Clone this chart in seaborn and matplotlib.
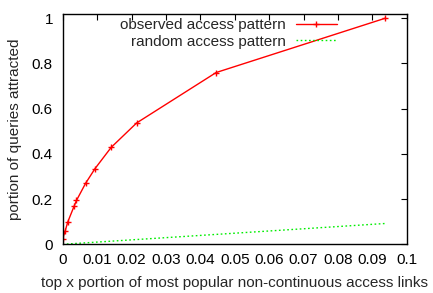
import matplotlib
matplotlib.use("Agg")
import matplotlib.pyplot as plt
import matplotlib.ticker as mticker
import seaborn as sns
import pandas as pd

# Data
obs_x = [0.0, 0.0007, 0.0015, 0.0033, 0.0040, 0.0067, 0.0094, 0.0141, 0.0215, 0.0446, 0.0937]
obs_y = [0.024, 0.058, 0.100, 0.168, 0.194, 0.271, 0.335, 0.429, 0.537, 0.760, 1.000]
rnd_x = [0.0, 0.0937]
rnd_y = [0.0, 0.092]
labels = ["observed access pattern", "random access pattern"]
x_ticks = [0, 0.01, 0.02, 0.03, 0.04, 0.05, 0.06, 0.07, 0.08, 0.09, 0.1]
y_ticks = [0, 0.2, 0.4, 0.6, 0.8, 1.0]

sns.set_style("white")
plt.rcParams["font.family"] = ["Liberation Sans", "DejaVu Sans"]
plt.rcParams["font.size"] = 11

obs = pd.DataFrame({"x": obs_x, "y": obs_y})
rnd = pd.DataFrame({"x": rnd_x, "y": rnd_y})

fig = plt.figure(figsize=(4.33, 2.93), dpi=100)
ax = fig.add_axes([62.7 / 433, 1 - 244.3 / 293, (406.7 - 62.7) / 433, (244.3 - 14) / 293])

sns.lineplot(data=obs, x="x", y="y", ax=ax, color="#ff0000", linewidth=1.0,
             marker="+", markersize=5, markeredgewidth=1.0, markeredgecolor="#ff0000",
             label=labels[0], legend=False)
sns.lineplot(data=rnd, x="x", y="y", ax=ax, color="#00ee00", linewidth=1.0,
             linestyle=(0, (1.2, 1.8)), label=labels[1], legend=False)

ax.set_xlim(0, 0.1)
ax.set_ylim(0, 1.019)
ax.set_xticks(x_ticks)
ax.set_yticks(y_ticks)
ax.xaxis.set_major_formatter(mticker.FormatStrFormatter("%g"))
ax.yaxis.set_major_formatter(mticker.FormatStrFormatter("%g"))
ax.tick_params(axis="both", direction="in", length=4, width=0.8, top=True, right=True,
               colors="black", labelsize=11)
ax.tick_params(axis="x", pad=6)
ax.tick_params(axis="y", pad=7)
for s in ax.spines.values():
    s.set_visible(True)
    s.set_color("black")
    s.set_linewidth(1.0)

ax.set_xlabel("top x portion of most popular non-continuous access links", fontsize=11, labelpad=7)
ax.set_ylabel("portion of queries attracted", fontsize=11, labelpad=7)

lines = ax.get_lines()
leg1 = ax.legend([lines[0]], [labels[0]], loc="center right", bbox_to_anchor=(0.797, 0.952),
                 frameon=False, markerfirst=False, handlelength=2.7, handletextpad=0.65,
                 borderpad=0, borderaxespad=0, fontsize=11)
ax.add_artist(leg1)
ax.legend([lines[1]], [labels[1]], loc="center right", bbox_to_anchor=(0.797, 0.880),
          frameon=False, markerfirst=False, handlelength=2.7, handletextpad=0.65,
          borderpad=0, borderaxespad=0, fontsize=11)

fig.savefig("out.png", dpi=100)
